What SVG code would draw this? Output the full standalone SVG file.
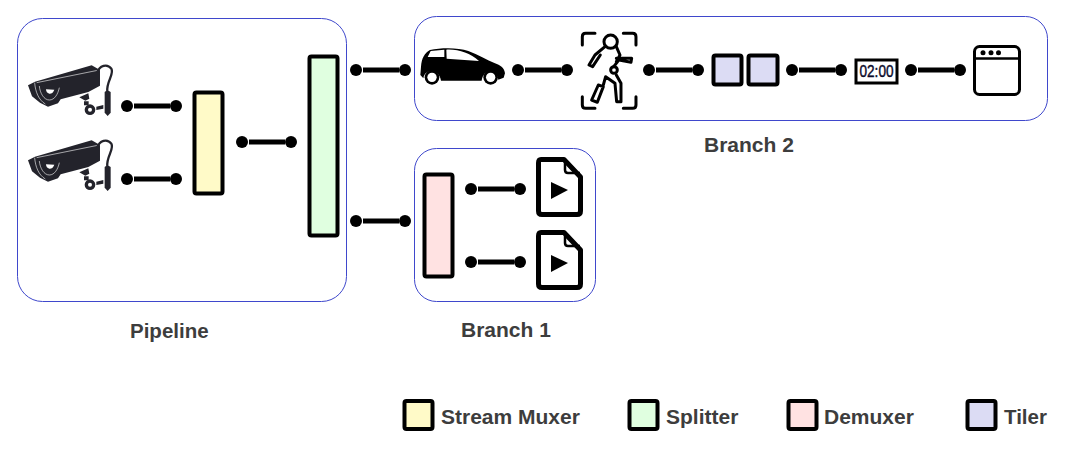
<svg xmlns="http://www.w3.org/2000/svg" xmlns:xlink="http://www.w3.org/1999/xlink" width="1065" height="449" viewBox="0 0 1065 449">
<style>
.panel{fill:#fff;stroke:#3f48cc;stroke-width:1}
.box{stroke:#000;stroke-width:4}
.y{fill:#fffac8}.g{fill:#e0ffe0}.p{fill:#ffe2e2}.t{fill:#dcdcf4}
.lbl{font-family:"Liberation Sans",Arial,sans-serif;font-weight:700;font-size:21px;fill:#3d3d3d}
.conn line{stroke:#000;stroke-width:5}
.conn circle{fill:#000;r:6px}
.ic{fill:none;stroke:#000;stroke-linecap:round;stroke-linejoin:round}
</style>
<defs>
<g id="cam" transform="scale(.3333)">
<path fill="#23232b" d="M45 95L215 46L240 60V107L205 126L122 148L114 160L84 170L60 158L36 139L24 106Z"/>
<path fill="none" stroke="#fff" stroke-width="1.800" d="M50 98L238 60M44 98C46 125 56 150 76 162M58 108C60 130 72 150 88 150C104 150 114 132 118 113"/>
<path fill="#fff" d="M78 118L103 119C100 129 92 132 88 131C82 130 78 125 78 118Z"/>
<path fill="none" stroke="#23232b" stroke-width="7" d="M232 68C238 46 262 40 274 56C284 72 258 96 262 125"/>
<path fill="#23232b" d="M254 126Q262 118 272 126V188L263 198L254 188Z"/>
<path fill="#23232b" d="M178 142L205 130L208 146L196 152ZM192 154H206V166H192Z"/>
<circle cx="210" cy="179" r="16" fill="#23232b"/><circle cx="210" cy="179" r="6" fill="#fff"/>
<path fill="#23232b" d="M229 170L250 165V176L229 180Z"/>
</g>
<g id="file">
<path d="M541 159.500H564L580.500 177V211Q580.500 214.500 577 214.500H542Q538.500 214.500 538.500 211V163Q538.500 159.500 541 159.500Z" fill="#fff" stroke="#000" stroke-width="5" stroke-linejoin="round"/>
<path d="M565 160V170Q565 173 568 173H580" fill="none" stroke="#000" stroke-width="2.500"/>
<path d="M551 182L568 190L551 199Z" fill="#000"/>
</g>
</defs>
<g id="pipeline"><rect class="panel" x="17.500" y="18.500" width="329" height="283" rx="25"/><text class="lbl" x="130" y="338" font-size="20.500" style="font-size:20.500px">Pipeline</text></g>
<g id="branch2"><rect class="panel" x="414.500" y="16.500" width="633" height="104" rx="22"/><text class="lbl" x="704" y="152">Branch 2</text></g>
<g id="branch1"><rect class="panel" x="414.500" y="148.500" width="181" height="153" rx="22"/><text class="lbl" x="461" y="337">Branch 1</text></g>
<g id="camera1"><use xlink:href="#cam" href="#cam" x="20" y="50"/></g>
<g id="camera2"><use xlink:href="#cam" href="#cam" x="20" y="125"/></g>
<g id="muxer"><rect class="box y" x="194.500" y="92.500" width="28" height="101" rx="2"/></g>
<g id="splitter"><rect class="box g" x="309.500" y="56.500" width="28" height="179" rx="2"/></g>
<g id="demuxer"><rect class="box p" x="424.500" y="174.500" width="28" height="102" rx="2"/></g>
<g id="file1"><use xlink:href="#file" href="#file"/></g>
<g id="file2"><use xlink:href="#file" href="#file" y="73"/></g>
<g id="car"><g transform="translate(415 25) scale(.3333)">
<path fill="#000" d="M18 125C20 100 28 85 45 75C80 68 130 68 160 78C190 90 215 104 240 115C255 120 268 128 270 145L266 158L250 164C245 130 205 130 200 167H78C72 130 30 130 25 160L16 150Z"/>
<path fill="#fff" d="M47 78L88 74V96L38 96ZM94 74C130 72 165 84 192 108L95 101Z"/>
<circle cx="51" cy="157" r="22" fill="#000"/><circle cx="51" cy="157" r="14" fill="#fff"/>
<circle cx="227" cy="157" r="22" fill="#000"/><circle cx="227" cy="157" r="14" fill="#fff"/>
</g></g>
<g id="person"><g class="ic" transform="translate(415 25) scale(.3333)" stroke-width="9">
<path d="M502 60V35Q502 25 512 25H540M625 25H653Q663 25 663 35V60M502 215V240Q502 250 512 250H540M625 250H653Q663 250 663 240V215"/>
<circle cx="587" cy="50" r="20"/>
<path d="M570 65L540 90L522 120L533 125L556 90M604 65L615 90L604 110M604 100L650 100L648 112L612 105M608 110L596 125"/>
<circle cx="597" cy="135" r="10"/>
<path d="M530 225L550 180L565 185L547 232ZM565 180L572 155L600 175M600 175L605 230H618L618 175L604 150"/>
</g></g>
<g id="tiler"><rect class="box t" x="713.500" y="55.500" width="28" height="29" rx="2"/><rect class="box t" x="748.500" y="55.500" width="29" height="29" rx="2"/></g>
<g id="clock"><rect x="856" y="60" width="41" height="23" fill="#fff" stroke="#000" stroke-width="3"/><text x="876.500" y="77" text-anchor="middle" font-family="'Liberation Sans',Arial,sans-serif" font-size="16.500" font-weight="400" fill="#0a0a2a" stroke="#0a0a2a" stroke-width=".4" textLength="34" lengthAdjust="spacingAndGlyphs">02:00</text></g>
<g id="window"><rect x="974.500" y="46.500" width="45" height="48" rx="5" fill="#fff" stroke="#000" stroke-width="3"/><path d="M974 58.500H1020" stroke="#000" stroke-width="2.500"/><circle cx="983" cy="52.700" r="2.500"/><circle cx="991" cy="52.700" r="2.500"/><circle cx="998.500" cy="52.700" r="2.500"/></g>
<g id="connectors" class="conn">
<line x1="134" y1="106" x2="170" y2="106"/><circle cx="127" cy="106" r="6"/><circle cx="176" cy="106" r="6"/>
<line x1="134" y1="179" x2="170" y2="179"/><circle cx="127" cy="179" r="6"/><circle cx="176" cy="179" r="6"/>
<line x1="249" y1="142" x2="285" y2="142"/><circle cx="242" cy="142" r="6"/><circle cx="291" cy="142" r="6"/>
<line x1="363" y1="70" x2="399" y2="70"/><circle cx="356" cy="70" r="6"/><circle cx="405" cy="70" r="6"/>
<line x1="363" y1="221" x2="399" y2="221"/><circle cx="356" cy="221" r="6"/><circle cx="405" cy="221" r="6"/>
<line x1="478" y1="189" x2="514" y2="189"/><circle cx="471" cy="189" r="6"/><circle cx="520" cy="189" r="6"/>
<line x1="478" y1="262" x2="514" y2="262"/><circle cx="471" cy="262" r="6"/><circle cx="520" cy="262" r="6"/>
<line x1="525" y1="70" x2="561" y2="70"/><circle cx="518" cy="70" r="6"/><circle cx="567" cy="70" r="6"/>
<line x1="656" y1="70" x2="692" y2="70"/><circle cx="649" cy="70" r="6"/><circle cx="698" cy="70" r="6"/>
<line x1="799" y1="70" x2="835" y2="70"/><circle cx="792" cy="70" r="6"/><circle cx="841" cy="70" r="6"/>
<line x1="918" y1="70" x2="954" y2="70"/><circle cx="911" cy="70" r="6"/><circle cx="960" cy="70" r="6"/>
</g>
<g id="legend">
<rect class="box y" x="404.500" y="401" width="28" height="28" rx="2"/><text class="lbl" x="441" y="424">Stream Muxer</text>
<rect class="box g" x="629.500" y="401" width="28" height="28" rx="2"/><text class="lbl" x="666" y="424">Splitter</text>
<rect class="box p" x="788.500" y="401" width="28" height="28" rx="2"/><text class="lbl" x="824" y="424">Demuxer</text>
<rect class="box t" x="967.500" y="401" width="28" height="28" rx="2"/><text class="lbl" x="1004" y="424" style="font-size:20.500px">Tiler</text>
</g>
</svg>
